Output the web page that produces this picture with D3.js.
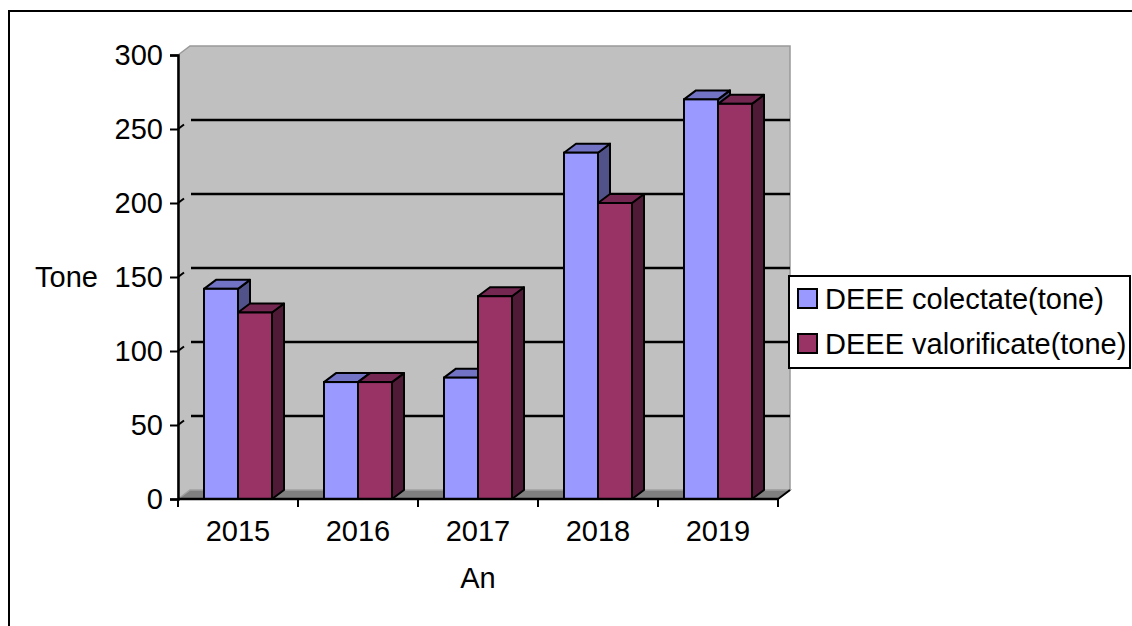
<!DOCTYPE html>
<html><head><meta charset="utf-8">
<script src="https://cdn.jsdelivr.net/npm/d3@7"></script>
<style>
html,body{margin:0;padding:0;background:#fff;}
svg{display:block;font-family:"Liberation Sans",Arial,sans-serif;}
</style></head>
<body>
<svg id="chart" width="1132" height="626"></svg>
<script>
const years = ["2015","2016","2017","2018","2019"];
const seriesNames = ["DEEE colectate(tone)","DEEE valorificate(tone)"];
const colectate = [142, 79, 82, 234, 270];
const valorificate = [126, 79, 137, 200, 267];
const yTicks = [0,50,100,150,200,250,300];
const seriesColors = [
  {front:"#9999ff", top:"#7373c6", side:"#52528a"},
  {front:"#993366", top:"#742750", side:"#4f1a35"}
];

const svg = d3.select("#chart");
const W = 1132, H = 626;
const pLeft = 178, pRight = 778, pBottom = 499, pTop = 55;
const DX = 12, DY = -9;
const FS = 29;

const y = d3.scaleLinear().domain([0,300]).range([pBottom, pTop]);
const x = d3.scaleBand().domain(years).range([pLeft, pRight]);
const xs = d3.scaleBand().domain([0,1]).range([-34, 34]);
const poly = pts => pts.map(p=>p.join(",")).join(" ");

// outer frame
svg.append("rect").attr("x",9).attr("y",11).attr("width",W+20).attr("height",H+20)
  .attr("fill","#fff").attr("stroke","#000").attr("stroke-width",2);

// walls
const wallTop = y(300) + DY;
svg.append("polygon")
  .attr("points", poly([[pLeft,y(300)],[pLeft+DX,wallTop],[pRight+DX,wallTop],[pRight+DX,pBottom+DY],[pLeft,pBottom]]))
  .attr("fill","#c0c0c0").attr("stroke","#999").attr("stroke-width",1.5);
// floor
svg.append("polygon")
  .attr("points", poly([[pLeft,pBottom],[pLeft+DX,pBottom+DY],[pRight+DX,pBottom+DY],[pRight,pBottom]]))
  .attr("fill","#808080").attr("stroke","#a0a0a0").attr("stroke-width",1.5);

// gridlines
yTicks.filter(t=>t>0 && t<300).forEach(t=>{
  svg.append("line").attr("x1",pLeft).attr("y1",y(t)).attr("x2",pLeft+DX/2).attr("y2",y(t)+DY/2)
    .attr("stroke","#000").attr("stroke-width",2);
  svg.append("line").attr("x1",pLeft+DX+1).attr("y1",y(t)+DY).attr("x2",pRight+DX).attr("y2",y(t)+DY)
    .attr("stroke","#000").attr("stroke-width",2.5);
});

// bars
const g = svg.append("g");
years.forEach((yr,i)=>{
  [colectate[i], valorificate[i]].forEach((v,s)=>{
    const c = seriesColors[s];
    const x0 = x(yr) + x.bandwidth()/2 + xs(s);
    const x1 = x0 + xs.bandwidth();
    const yt = y(v), yb = y(0);
    g.append("polygon").attr("points", poly([[x1,yt],[x1+DX,yt+DY],[x1+DX,yb+DY],[x1,yb]]))
      .attr("fill",c.side).attr("stroke","#000").attr("stroke-width",2).attr("stroke-linejoin","round");
    g.append("polygon").attr("points", poly([[x0,yt],[x0+DX,yt+DY],[x1+DX,yt+DY],[x1,yt]]))
      .attr("fill",c.top).attr("stroke","#000").attr("stroke-width",2).attr("stroke-linejoin","round");
    g.append("rect").attr("x",x0).attr("y",yt).attr("width",x1-x0).attr("height",yb-yt)
      .attr("fill",c.front).attr("stroke","#000").attr("stroke-width",2);
  });
});

// axes
const yAxis = d3.axisLeft(y).tickValues(yTicks).tickSize(8).tickPadding(7).tickFormat(d3.format("d"));
const ya = svg.append("g").attr("transform",`translate(${pLeft},0)`).call(yAxis);
ya.select(".domain").attr("stroke","#000").attr("stroke-width",2.5);
ya.selectAll(".tick line").attr("stroke","#000").attr("stroke-width",2);
ya.selectAll(".tick text").attr("font-size",FS).attr("fill","#000")
  .attr("font-family","'Liberation Sans',Arial,sans-serif");

svg.append("line").attr("x1",pLeft).attr("y1",pBottom).attr("x2",pRight).attr("y2",pBottom)
  .attr("stroke","#000").attr("stroke-width",2.5);
svg.append("line").attr("x1",pRight).attr("y1",pBottom).attr("x2",pRight+DX).attr("y2",pBottom+DY)
  .attr("stroke","#000").attr("stroke-width",2);
const bounds = years.map(yr=>x(yr)).concat([pRight]);
bounds.forEach(b=>{
  svg.append("line").attr("x1",b).attr("y1",pBottom).attr("x2",b).attr("y2",pBottom+8)
    .attr("stroke","#000").attr("stroke-width",2);
});
years.forEach(yr=>{
  svg.append("text").attr("x",x(yr)+x.bandwidth()/2).attr("y",541)
    .attr("text-anchor","middle").attr("font-size",FS).attr("fill","#000").text(yr);
});

// axis titles
svg.append("text").attr("x",(pLeft+pRight)/2).attr("y",588).attr("text-anchor","middle")
  .attr("font-size",FS).attr("fill","#000").text("An");
svg.append("text").attr("x",35).attr("y",287).attr("text-anchor","start")
  .attr("font-size",FS).attr("fill","#000").text("Tone");

// legend
const lg = svg.append("g");
lg.append("rect").attr("x",789).attr("y",276).attr("width",341).attr("height",92)
  .attr("fill","#fff").attr("stroke","#000").attr("stroke-width",2);
seriesNames.forEach((n,s)=>{
  const cy = 299 + s*45;
  lg.append("rect").attr("x",798).attr("y",cy-10).attr("width",19).attr("height",19)
    .attr("fill",seriesColors[s].front).attr("stroke","#000").attr("stroke-width",2);
  lg.append("text").attr("x",825).attr("y",cy+10).attr("font-size",FS).attr("fill","#000").text(n);
});
</script>
</body></html>
